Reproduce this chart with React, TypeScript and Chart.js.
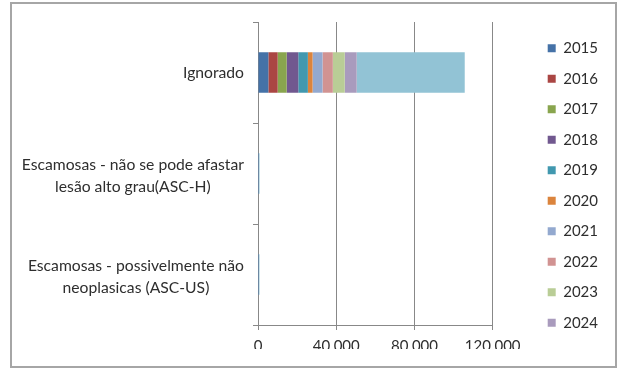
import React, { useEffect, useRef } from 'react';
import { Chart, registerables } from 'chart.js';

Chart.register(...registerables);

const categories: string[][] = [
  ['Ignorado'],
  ['Escamosas - não se pode afastar', 'lesão alto grau(ASC-H)'],
  ['Escamosas - possivelmente não', 'neoplasicas (ASC-US)'],
];

const seriesNames = ['2015', '2016', '2017', '2018', '2019', '2020', '2021', '2022', '2023', '2024', 'Total'];

const values2015 = [5300, 30, 25];
const values2016 = [4750, 25, 25];
const values2017 = [4600, 25, 20];
const values2018 = [5950, 30, 30];
const values2019 = [4900, 25, 25];
const values2020 = [2400, 15, 15];
const values2021 = [5100, 25, 25];
const values2022 = [5250, 25, 25];
const values2023 = [6100, 30, 30];
const values2024 = [6100, 30, 30];
const valuesTotal = [55250, 520, 500];

const seriesValues = [
  values2015, values2016, values2017, values2018, values2019,
  values2020, values2021, values2022, values2023, values2024, valuesTotal,
];

const seriesColors = [
  '#4572A7', '#AA4643', '#89A54E', '#71588F', '#4198AF',
  '#DB843D', '#93A9CF', '#D19392', '#B9CD96', '#A99BBD', '#92C3D5',
];

const xTicks = [0, 40000, 80000, 120000];
const legendCount = 10;

const FONT_FAMILY = 'Lato';
const FONT_SIZE = 15;
const CAT_FONT_SIZE = 15.7;
const TEXT_COLOR = '#2e2e2e';
const GRID_COLOR = '#888888';

function fmt(v: number): string {
  return String(v).replace(/\B(?=(\d{3})+(?!\d))/g, '.');
}

const categoryLabelPlugin = {
  id: 'categoryLabels',
  afterDraw(chart: any) {
    const ys = chart.scales.y;
    const ctx = chart.ctx as CanvasRenderingContext2D;
    ctx.save();
    ctx.font = `${CAT_FONT_SIZE}px ${FONT_FAMILY}`;
    ctx.fillStyle = TEXT_COLOR;
    ctx.textAlign = 'center';
    ctx.textBaseline = 'middle';
    categories.forEach((lines, i) => {
      const yc = ys.getPixelForValue(i) + (lines.length > 1 ? 2.5 : 0);
      const w = Math.max(...lines.map((l) => ctx.measureText(l).width));
      const cx = ys.right - 14 - w / 2;
      lines.forEach((line, j) => {
        ctx.fillText(line, cx, yc + (j - (lines.length - 1) / 2) * 21.6);
      });
    });
    ctx.restore();
  },
};

export default function App() {
  const canvasRef = useRef<HTMLCanvasElement | null>(null);

  useEffect(() => {
    if (!canvasRef.current) return;
    const font = { family: FONT_FAMILY, size: FONT_SIZE };
    const chart = new Chart(canvasRef.current, {
      type: 'bar',
      data: {
        labels: categories,
        datasets: seriesNames.map((name, i) => ({
          label: name,
          data: seriesValues[i],
          backgroundColor: seriesColors[i],
          borderWidth: 0,
          barPercentage: 0.5,
          categoryPercentage: 0.8,
        })),
      },
      options: {
        indexAxis: 'y',
        responsive: false,
        animation: false,
        devicePixelRatio: 1,
        layout: { padding: { top: 22, bottom: 23, left: 0, right: 17 } },
        scales: {
          x: {
            stacked: true,
            min: 0,
            max: 120000,
            afterBuildTicks: (s: any) => {
              s.ticks = xTicks.map((v) => ({ value: v }));
            },
            ticks: {
              color: TEXT_COLOR,
              font,
              padding: 7,
              maxRotation: 0,
              callback: (v: any) => fmt(Number(v)),
            },
            grid: { color: GRID_COLOR, tickLength: 5, drawTicks: true },
            border: { color: GRID_COLOR },
            afterFit: (s: any) => {
              s.height = 24;
            },
          },
          y: {
            stacked: true,
            ticks: { display: false },
            grid: { drawOnChartArea: false, color: GRID_COLOR, tickLength: 5, offset: true },
            border: { color: GRID_COLOR },
            afterFit: (s: any) => {
              s.width = 258;
            },
          },
          y2: {
            type: 'linear',
            position: 'right',
            display: true,
            grid: { display: false },
            ticks: { display: false },
            border: { display: false },
            afterFit: (s: any) => {
              s.width = 39.5;
            },
          },
        },
        plugins: {
          legend: {
            position: 'right',
            align: 'center',
            labels: {
              boxWidth: 8,
              boxHeight: 8,
              padding: 15.5,
              color: TEXT_COLOR,
              font,
              filter: (item: any) => item.datasetIndex < legendCount,
            },
          },
          tooltip: { enabled: false },
        },
      } as any,
      plugins: [categoryLabelPlugin],
    });
    return () => chart.destroy();
  }, []);

  return (
    <div style={{ position: 'absolute', left: 0, top: 0, width: 625, height: 372, background: '#ffffff' }}>
      <div
        style={{
          position: 'absolute',
          left: 10,
          top: 2,
          width: 607,
          height: 366,
          boxSizing: 'border-box',
          border: '2px solid #a6a6a6',
        }}
      />
      <canvas ref={canvasRef} width={625} height={372} style={{ position: 'absolute', left: 0, top: 0 }} />
    </div>
  );
}
